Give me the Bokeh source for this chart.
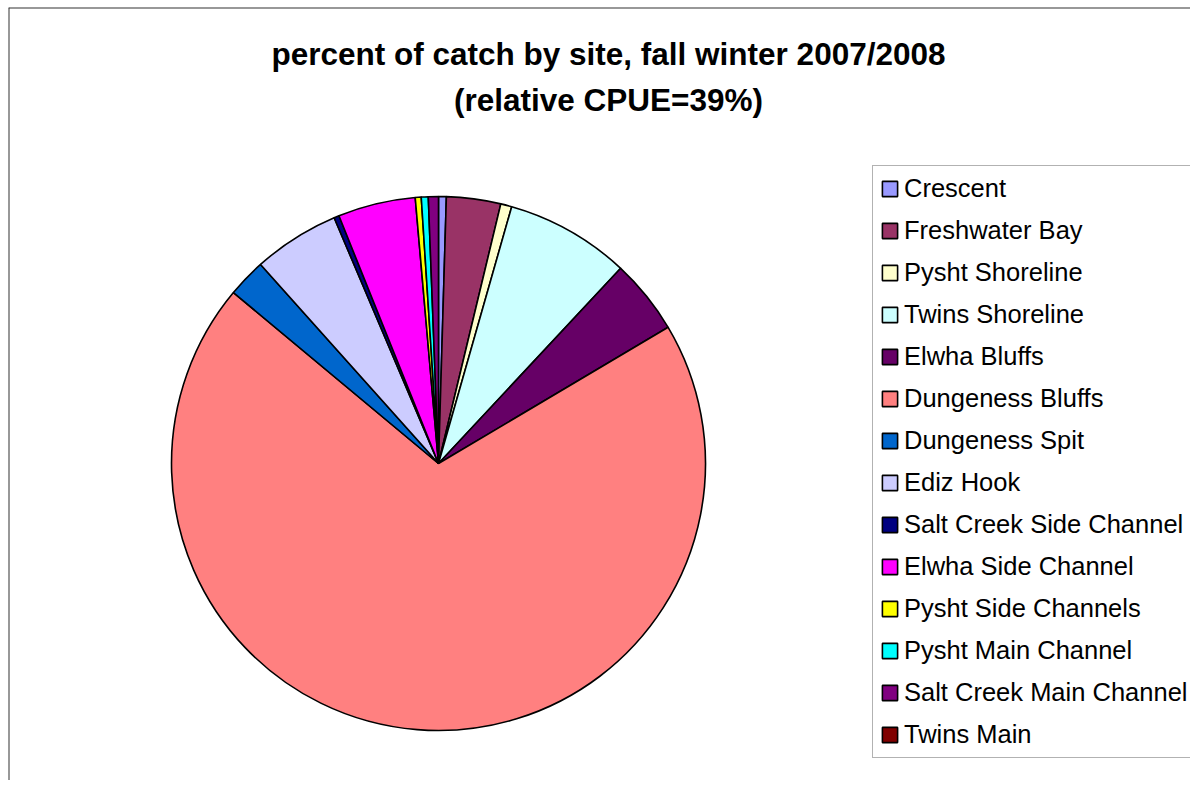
import numpy as np
from bokeh.plotting import figure
from bokeh.models import Range1d, ColumnDataSource, Legend, LegendItem, Label, Span
from bokeh.embed import file_html
from bokeh.resources import INLINE

# ---- data (percent of catch) ----
sites = ["Crescent", "Freshwater Bay", "Pysht Shoreline", "Twins Shoreline",
         "Elwha Bluffs", "Dungeness Bluffs", "Dungeness Spit", "Ediz Hook",
         "Salt Creek Side Channel", "Elwha Side Channel", "Pysht Side Channels",
         "Pysht Main Channel", "Salt Creek Main Channel", "Twins Main"]
percent = [0.47, 3.28, 0.67, 7.53, 4.53, 69.58, 2.33, 5.22,
           0.31, 4.69, 0.36, 0.42, 0.61, 0.0]
colors = ["#9999FF", "#993366", "#FFFFCC", "#CCFFFF", "#660066", "#FF8080",
          "#0066CC", "#CCCCFF", "#000080", "#FF00FF", "#FFFF00", "#00FFFF",
          "#800080", "#800000"]
title1 = "percent of catch by site, fall winter 2007/2008"
title2 = "(relative CPUE=39%)"

W, H = 1190, 780
ML, MT = 8, 7
FW, FH = W - ML, H - MT
p = figure(width=W, height=H, output_backend="svg", toolbar_location=None,
           x_range=Range1d(0, FW), y_range=Range1d(0, FH),
           min_border=0, min_border_left=ML, min_border_top=MT,
           background_fill_color="white", border_fill_color="white")
p.axis.visible = False
p.grid.visible = False
p.outline_line_color = None

# chart-area border (only top and left edges are inside the window)
p.add_layout(Span(location=0, dimension="height", line_color="#333333", line_width=2))
p.add_layout(Span(location=FH, dimension="width", line_color="#333333", line_width=2))

vals = np.array(percent, dtype=float)
frac = vals / vals.sum() * 2 * np.pi
cum_end = np.cumsum(frac)
cum_start = cum_end - frac
start = np.pi / 2 - cum_start
end = np.pi / 2 - cum_end

nz = vals > 0
idx_nz = np.flatnonzero(nz)
cx, cy, R = 430, 317, 267
src = ColumnDataSource(dict(start=start[nz], end=end[nz],
                            color=[colors[i] for i in idx_nz],
                            site=[sites[i] for i in idx_nz]))
r = p.wedge(x=cx, y=cy, radius=R, start_angle="start", end_angle="end",
            direction="clock", fill_color="color", line_color="black",
            line_width=1.6, source=src)

items = []
for i, s in enumerate(sites):
    if nz[i]:
        items.append(LegendItem(label=s, renderers=[r],
                                index=int(np.flatnonzero(idx_nz == i)[0])))
    else:
        rz = p.rect(x=[-1000], y=[-1000], width=1, height=1,
                    fill_color=colors[i], line_color="black", line_width=1.6)
        items.append(LegendItem(label=s, renderers=[rz]))

legend = Legend(items=items, location=(864, 22), margin=0, padding=7,
                spacing=11, label_height=31, glyph_width=19, glyph_height=19,
                label_standoff=5, label_text_font="Liberation Sans",
                label_text_font_size="25.5px", label_text_color="black",
                border_line_color="#666666", border_line_width=1.5,
                background_fill_color="white", background_fill_alpha=1.0)
p.add_layout(legend)

for txt, yy in [(title1, 727), (title2, 681)]:
    p.add_layout(Label(x=600, y=yy, text=txt, text_align="center",
                       text_baseline="middle", text_font="Liberation Sans",
                       text_font_style="bold", text_font_size="31.5px",
                       text_color="black"))

open("out.html", "w").write(file_html(p, INLINE))
